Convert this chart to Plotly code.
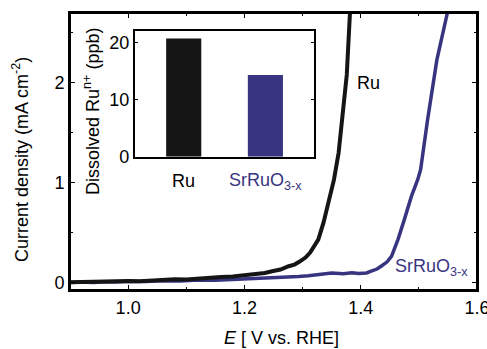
import plotly.graph_objects as go

# Main LSV curves
E_ru = [0.90, 0.92, 0.94, 0.96, 0.98, 1.00, 1.02, 1.04, 1.06, 1.08, 1.10, 1.12, 1.14, 1.16, 1.18, 1.20,
        1.22, 1.235, 1.2475, 1.262, 1.276, 1.286, 1.295, 1.305, 1.313, 1.320, 1.327, 1.336, 1.344, 1.354,
        1.362, 1.372, 1.376, 1.3815, 1.384]
J_ru = [0.002, 0.006, 0.003, 0.010, 0.008, 0.015, 0.012, 0.022, 0.024, 0.032, 0.031, 0.042, 0.046, 0.055, 0.060, 0.072,
        0.082, 0.095, 0.113, 0.130, 0.163, 0.180, 0.210, 0.250, 0.300, 0.360, 0.430, 0.600, 0.800, 1.030,
        1.300, 1.830, 2.080, 2.700, 2.900]

E_sr = [0.90, 0.92, 0.94, 0.96, 0.98, 1.00, 1.03, 1.06, 1.09, 1.12, 1.15, 1.18, 1.21, 1.24, 1.27, 1.293,
        1.31, 1.33, 1.35, 1.37, 1.385, 1.396, 1.41, 1.418, 1.428, 1.435, 1.445, 1.453, 1.464, 1.475, 1.487,
        1.498, 1.503, 1.515, 1.531, 1.549, 1.555]
J_sr = [0.000, 0.006, 0.001, 0.008, 0.005, 0.012, 0.010, 0.018, 0.015, 0.024, 0.022, 0.030, 0.034, 0.042, 0.048, 0.060,
        0.068, 0.078, 0.095, 0.088, 0.098, 0.090, 0.096, 0.113, 0.135, 0.163, 0.205, 0.263, 0.430, 0.630, 0.860,
        1.030, 1.130, 1.630, 2.230, 2.700, 2.900]

# Inset bars
bar_cats = ["Ru", "SrRuO<sub>3-x</sub>"]
bar_vals = [20.7, 14.3]
bar_pos = [0, 1]

x_ticks = [1.0, 1.2, 1.4, 1.6]
x_ticktext = ["1.0", "1.2", "1.4", "1.6"]
x_minor = [1.1, 1.3, 1.5]
y_ticks = [0, 1, 2]
y_minor = [0.5, 1.5, 2.5]
inset_ticks = [0, 10, 20]

BLACK = "#151515"
BLUE = "#37357f"
FONT = "Liberation Sans, Arial, sans-serif"
FS = 18

W, H = 487, 349
ML, MR, MT, MB = 70, 10, 13, 59
PW, PH = W - ML - MR, H - MT - MB
XR = [0.9, 1.6]
YR = [-0.075, 2.7]

fig = go.Figure()
fig.add_trace(go.Scatter(x=E_sr, y=J_sr, mode="lines", line=dict(color=BLUE, width=3.5), showlegend=False))
fig.add_trace(go.Scatter(x=E_ru, y=J_ru, mode="lines", line=dict(color=BLACK, width=4), showlegend=False))
fig.add_trace(go.Bar(x=bar_pos, y=bar_vals, marker=dict(color=[BLACK, BLUE], line=dict(width=0)),
                     width=0.43, xaxis="x2", yaxis="y2", showlegend=False))
# invisible helpers carrying the minor-tick overlay axes
fig.add_trace(go.Scatter(x=[XR[0]], y=[0], mode="markers", marker=dict(opacity=0), xaxis="x3", yaxis="y",
                         showlegend=False, hoverinfo="skip"))
fig.add_trace(go.Scatter(x=[XR[0]], y=[0], mode="markers", marker=dict(opacity=0), xaxis="x", yaxis="y3",
                         showlegend=False, hoverinfo="skip"))

common = dict(showline=True, linecolor="black", linewidth=2, ticks="inside", tickcolor="black",
              tickwidth=1.2, showgrid=False, zeroline=False, automargin=False,
              ticklabeloverflow="allow",
              tickfont=dict(family=FONT, size=FS, color="black"))
minor_common = dict(showline=False, ticks="inside", tickcolor="black", tickwidth=1.2, ticklen=3,
                    showgrid=False, zeroline=False, automargin=False, showticklabels=False,
                    mirror="ticks")

fig.update_layout(
    width=W, height=H,
    margin=dict(l=ML, r=MR, t=MT, b=MB, autoexpand=False),
    plot_bgcolor="white", paper_bgcolor="white",
    font=dict(family=FONT, color="black", size=FS),
    xaxis=dict(range=XR, tickvals=x_ticks, ticktext=x_ticktext, ticklen=5, mirror="ticks", **common),
    yaxis=dict(range=YR, tickvals=y_ticks, ticklen=5, mirror="ticks", **common),
    xaxis3=dict(range=XR, overlaying="x", side="bottom", anchor="y", tickvals=x_minor, **minor_common),
    yaxis3=dict(range=YR, overlaying="y", side="left", anchor="x", tickvals=y_minor, **minor_common),
    xaxis2=dict(domain=[0.159, 0.6005], anchor="y2", range=[-0.6, 1.6], showticklabels=False,
                showline=True, linecolor="black", linewidth=1.5, mirror=True, ticks="", showgrid=False,
                zeroline=False),
    yaxis2=dict(domain=[0.481, 0.935], anchor="x2", range=[0, 22], tickvals=inset_ticks, ticklen=4,
                mirror="ticks", **{**common, "linewidth": 1.5}),
    shapes=[dict(type="rect", xref="paper", yref="paper", x0=0, x1=1, y0=0, y1=1,
                 line=dict(color="black", width=2), layer="above")],
    annotations=[
        # axis titles
        dict(x=(281 - ML) / PW, y=(H - MB - 338) / PH, xref="paper", yref="paper",
             text="<i>E</i> [ V vs. RHE]", showarrow=False, font=dict(size=FS), yanchor="middle"),
        dict(x=-(ML - 20) / PW, y=(H - MB - 160) / PH, xref="paper", yref="paper",
             text="Current density (mA cm<sup>-2</sup>)", showarrow=False, textangle=-90,
             font=dict(size=FS), xanchor="center", yanchor="middle"),
        dict(x=(92 - ML) / PW, y=(H - MB - 112) / PH, xref="paper", yref="paper",
             text="Dissolved Ru<sup>n+</sup> (ppb)", showarrow=False, textangle=-90,
             font=dict(size=FS), xanchor="center", yanchor="middle"),
        # inset category labels
        dict(x=0, y=(H - MB - 181) / PH, xref="x2", yref="paper", text=bar_cats[0], showarrow=False,
             font=dict(size=FS, color="black"), yanchor="middle"),
        dict(x=1, y=(H - MB - 181) / PH, xref="x2", yref="paper", text=bar_cats[1],
             showarrow=False, font=dict(size=FS, color=BLUE), yanchor="middle"),
        # curve labels
        dict(x=1.39, y=2.0, xref="x", yref="y", text="Ru", showarrow=False, xanchor="left",
             font=dict(size=FS, color="black"), yanchor="middle"),
        dict(x=1.456, y=0.15, xref="x", yref="y", text="SrRuO<sub>3-x</sub>", showarrow=False,
             xanchor="left", font=dict(size=FS, color=BLUE), yanchor="middle"),
    ],
)

fig.write_html("out.html")
